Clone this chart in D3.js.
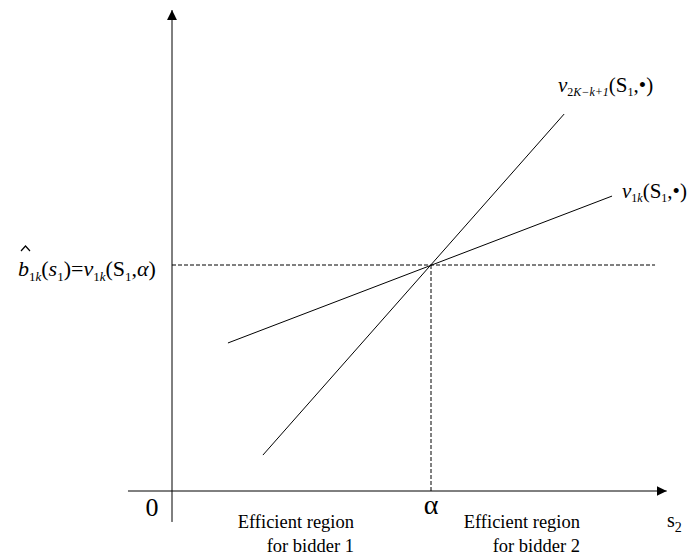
<!DOCTYPE html>
<html>
<head>
<meta charset="utf-8">
<title>Efficient regions</title>
<script src="https://cdn.jsdelivr.net/npm/d3@7"></script>
<style>
  body { margin: 0; background: #fff; }
  text { font-family: "Liberation Serif", "Times New Roman", serif; fill: #000; }
</style>
</head>
<body>
<div id="chart"></div>
<script>
// values in chart units: alpha = 1 on s2, b-hat = 1 on the value axis
var alpha = 1, bhat = 1;
var xAxisRange = [-0.17, 1.91];
var yAxisRange = [-0.137, 2.128];
var lineV1k = [[0.216, 0.655], [1.699, 1.305]];
var lineV2K = [[0.351, 0.159], [1.514, 1.668]];
var dashEnd = 1.865;
var regionLabels = [
  ["Efficient region", "for bidder  1"],
  ["Efficient region", "for bidder  2"]
];

var width = 696, height = 559;
var x = d3.scaleLinear().domain([0, alpha]).range([172, 431]);
var y = d3.scaleLinear().domain([0, bhat]).range([491, 265]);

var svg = d3.select("#chart").append("svg")
    .attr("width", width).attr("height", height);

svg.append("defs").append("marker")
    .attr("id", "arrow").attr("viewBox", "0 0 10 10")
    .attr("refX", 10).attr("refY", 5)
    .attr("markerWidth", 10).attr("markerHeight", 10)
    .attr("markerUnits", "userSpaceOnUse")
    .attr("orient", "auto")
  .append("path").attr("d", "M0,0L10,5L0,10Z").attr("fill", "#000");

// axes
svg.append("line")
    .attr("x1", x(xAxisRange[0])).attr("y1", y(0))
    .attr("x2", x(xAxisRange[1])).attr("y2", y(0))
    .attr("stroke", "#000").attr("stroke-width", 1)
    .attr("marker-end", "url(#arrow)");
svg.append("line")
    .attr("x1", x(0)).attr("y1", y(yAxisRange[0]))
    .attr("x2", x(0)).attr("y2", y(yAxisRange[1]))
    .attr("stroke", "#000").attr("stroke-width", 1)
    .attr("marker-end", "url(#arrow)");

// dashed guides
svg.append("line")
    .attr("x1", x(0)).attr("y1", y(bhat))
    .attr("x2", x(dashEnd)).attr("y2", y(bhat))
    .attr("stroke", "#000").attr("stroke-dasharray", "4,2");
svg.append("line")
    .attr("x1", x(alpha)).attr("y1", y(bhat))
    .attr("x2", x(alpha)).attr("y2", y(0))
    .attr("stroke", "#000").attr("stroke-dasharray", "4,2");

var line = d3.line().x(function(d) { return x(d[0]); }).y(function(d) { return y(d[1]); });
[lineV1k, lineV2K].forEach(function(pts) {
  svg.append("path").attr("d", line(pts))
      .attr("fill", "none").attr("stroke", "#000").attr("stroke-width", 1);
});

// axis labels
svg.append("text").attr("x", 152).attr("y", 516)
    .attr("text-anchor", "middle").style("font-size", "26px").text("0");
svg.append("text").attr("x", x(alpha)).attr("y", 514)
    .attr("text-anchor", "middle").style("font-size", "28px").text("α");
var s2 = svg.append("text").attr("x", 667).attr("y", 527).style("font-size", "20px");
s2.append("tspan").text("s");
s2.append("tspan").attr("dy", 5).style("font-size", "14px").text("2");

// region labels
var regionX = [354, 580];
regionLabels.forEach(function(lbl, i) {
  svg.append("text").attr("x", regionX[i]).attr("y", 528)
      .attr("text-anchor", "end").style("font-size", "18.5px").text(lbl[0]);
  svg.append("text").attr("x", regionX[i]).attr("y", 552)
      .attr("text-anchor", "end").style("font-size", "18.5px").text(lbl[1]);
});

// function labels
function fnLabel(px, py, sub) {
  var t = svg.append("text").attr("x", px).attr("y", py).style("font-size", "21px");
  t.append("tspan").style("font-style", "italic").text("v");
  var s = t.append("tspan").attr("dy", 4).style("font-size", "12px");
  s.append("tspan").text(sub[0]);
  s.append("tspan").style("font-style", "italic").text(sub[1]);
  t.append("tspan").attr("dy", -4).text("(S");
  t.append("tspan").attr("dy", 4).style("font-size", "12px").text("1");
  t.append("tspan").attr("dy", -4).text(",•)");
}
fnLabel(558, 92, ["2", "K−k+1"]);
fnLabel(622, 198, ["1", "k"]);

// b-hat label
var bl = svg.append("text").attr("x", 18).attr("y", 276).style("font-size", "22px");
bl.append("tspan").style("font-style", "italic").text("b");
bl.append("tspan").attr("dy", 5).style("font-size", "13px").text("1");
bl.append("tspan").style("font-size", "13px").style("font-style", "italic").text("k");
bl.append("tspan").attr("dy", -5).text("(");
bl.append("tspan").style("font-style", "italic").text("s");
bl.append("tspan").attr("dy", 5).style("font-size", "13px").text("1");
bl.append("tspan").attr("dy", -5).text(")=");
bl.append("tspan").style("font-style", "italic").text("v");
bl.append("tspan").attr("dy", 5).style("font-size", "13px").text("1");
bl.append("tspan").style("font-size", "13px").style("font-style", "italic").text("k");
bl.append("tspan").attr("dy", -5).text("(S");
bl.append("tspan").attr("dy", 5).style("font-size", "13px").text("1");
bl.append("tspan").attr("dy", -5).text(",");
bl.append("tspan").style("font-style", "italic").text("α");
bl.append("tspan").text(")");
// the hat accent over b
svg.append("path").attr("d", "M21,251L25.5,246L30,251")
    .attr("fill", "none").attr("stroke", "#000").attr("stroke-width", 1.2);
</script>
</body>
</html>
